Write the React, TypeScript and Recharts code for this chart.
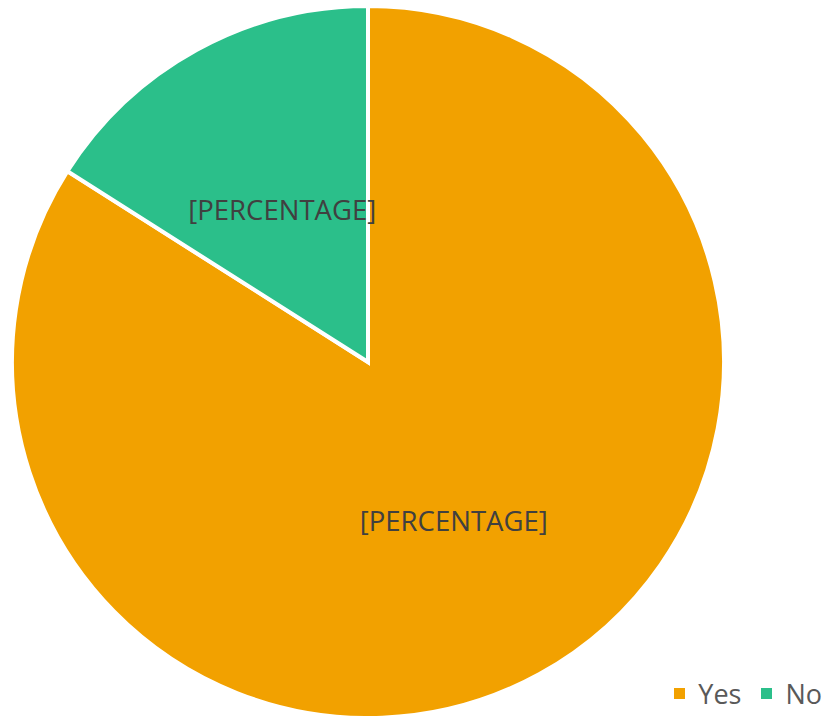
import { PieChart, Pie, Cell, Legend } from 'recharts';

const categories = ['Yes', 'No'];
const values = [84, 16];
const colors = ['#F2A100', '#2BBF8A'];

const data = categories.map((name, i) => ({ name, value: values[i] }));

const RADIAN = Math.PI / 180;

function renderLabel(props: any) {
  const { cx, cy, midAngle, outerRadius } = props;
  const r = outerRadius * 0.5;
  const x = cx + r * Math.cos(-midAngle * RADIAN);
  const y = cy + r * Math.sin(-midAngle * RADIAN) + 3;
  return (
    <text
      x={x}
      y={y}
      fill="#404040"
      textAnchor="middle"
      dominantBaseline="central"
      fontFamily="'Open Sans', sans-serif"
      fontSize={27.5}
    >
      [PERCENTAGE]
    </text>
  );
}

function renderLegend(props: any) {
  const items = [...(props.payload || [])].sort(
    (a: any, b: any) => categories.indexOf(a.value) - categories.indexOf(b.value)
  );
  return (
    <div style={{ display: 'flex', alignItems: 'center', fontFamily: "'Open Sans', sans-serif", fontSize: 27, color: '#595959' }}>
      {items.map((entry: any) => (
        <div key={entry.value} style={{ display: 'flex', alignItems: 'center', marginLeft: 20 }}>
          <span style={{ width: 11, height: 11, background: entry.color, display: 'inline-block', marginRight: 13 }} />
          <span>{entry.value}</span>
        </div>
      ))}
    </div>
  );
}

export default function App() {
  return (
    <div style={{ position: 'absolute', left: 0, top: 0, width: 826, height: 716, background: '#fff' }}>
      <PieChart width={826} height={716} margin={{ top: 0, right: 0, bottom: 0, left: 0 }}>
        <Pie
          data={data}
          dataKey="value"
          nameKey="name"
          cx={368}
          cy={362}
          outerRadius={356}
          startAngle={90}
          endAngle={-270}
          stroke="#ffffff"
          strokeWidth={4}
          label={renderLabel}
          labelLine={false}
          isAnimationActive={false}
        >
          {data.map((d, i) => (
            <Cell key={d.name} fill={colors[i]} />
          ))}
        </Pie>
        <Legend
          content={renderLegend}
          wrapperStyle={{ position: 'absolute', left: 'auto', right: 4, bottom: 'auto', top: 675, width: 'auto' }}
        />
      </PieChart>
    </div>
  );
}
